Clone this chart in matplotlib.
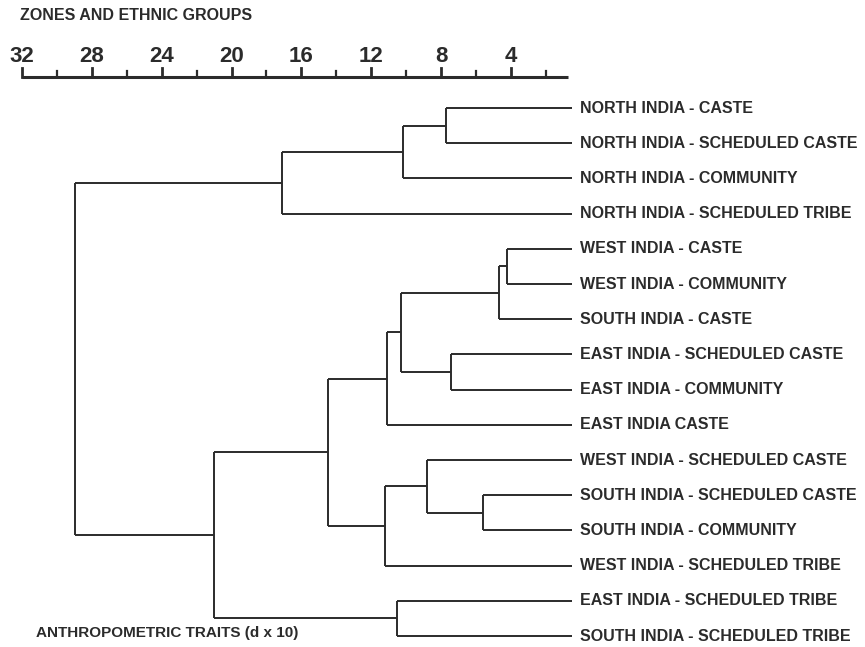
import matplotlib
matplotlib.use("Agg")
import matplotlib.pyplot as plt

plt.rcParams['font.family'] = ['Liberation Sans', 'DejaVu Sans']

# leaves, top to bottom
leaves = [
    "NORTH INDIA - CASTE",
    "NORTH INDIA - SCHEDULED CASTE",
    "NORTH INDIA - COMMUNITY",
    "NORTH INDIA - SCHEDULED TRIBE",
    "WEST INDIA - CASTE",
    "WEST INDIA - COMMUNITY",
    "SOUTH INDIA - CASTE",
    "EAST INDIA - SCHEDULED CASTE",
    "EAST INDIA - COMMUNITY",
    "EAST INDIA CASTE",
    "WEST INDIA - SCHEDULED CASTE",
    "SOUTH INDIA - SCHEDULED CASTE",
    "SOUTH INDIA - COMMUNITY",
    "WEST INDIA - SCHEDULED TRIBE",
    "EAST INDIA - SCHEDULED TRIBE",
    "SOUTH INDIA - SCHEDULED TRIBE",
]

# merges (cluster a, cluster b, distance); new cluster ids continue after leaves
merge_a = [0, 16, 17, 4, 19, 7, 20, 22, 11, 10, 25, 23, 14, 27, 18]
merge_b = [1, 2, 3, 5, 6, 8, 21, 9, 12, 24, 13, 26, 15, 28, 29]
merge_d = [7.7, 10.2, 17.1, 4.2, 4.7, 7.4, 10.3, 11.1, 5.6, 8.8, 11.2, 14.5, 10.5, 21.0, 29.0]

tick_major = [32, 28, 24, 20, 16, 12, 8, 4]
tick_minor = [30, 26, 22, 18, 14, 10, 6, 2]
leaf_end = 0.5

ink = "#2b2b2b"
fig = plt.figure(figsize=(8.65, 6.47), dpi=100)
ax = fig.add_axes([0, 0, 1, 1])
ax.set_xlim(33.27, -16.3)
ax.set_ylim(15.31, -3.07)
ax.axis("off")

# dendrogram
xs = {i: leaf_end for i in range(len(leaves))}
ys = {i: float(i) for i in range(len(leaves))}
nid = len(leaves)
for a, b, d in zip(merge_a, merge_b, merge_d):
    for c in (a, b):
        ax.plot([xs[c], d], [ys[c], ys[c]], color=ink, lw=1.4, solid_capstyle="butt")
    ax.plot([d, d], [ys[a], ys[b]], color=ink, lw=1.4, solid_capstyle="butt")
    xs[nid] = d
    ys[nid] = (ys[a] + ys[b]) / 2
    nid += 1

for i, name in enumerate(leaves):
    ax.text(0.05, i, name, ha="left", va="center", fontsize=11.5,
            fontweight="bold", color=ink)

# scale bar
ax_y = -0.88
ax.plot([32, 0.7], [ax_y, ax_y], color=ink, lw=2.2, solid_capstyle="butt")
for t in tick_major:
    ax.plot([t, t], [ax_y, ax_y - 0.27], color=ink, lw=2.0)
    ax.text(t, ax_y - 0.29, str(t), ha="center", va="bottom", fontsize=16,
            fontweight="bold", color=ink)
for t in tick_minor:
    ax.plot([t, t], [ax_y, ax_y - 0.17], color=ink, lw=1.6)

ax.text(32.1, -2.62, "ZONES AND ETHNIC GROUPS", ha="left", va="center",
        fontsize=11.5, fontweight="bold", color=ink)
ax.text(31.2, 14.92, "ANTHROPOMETRIC TRAITS (d x 10)", ha="left", va="center",
        fontsize=11, fontweight="bold", color=ink)

fig.savefig("out.png", dpi=100)
